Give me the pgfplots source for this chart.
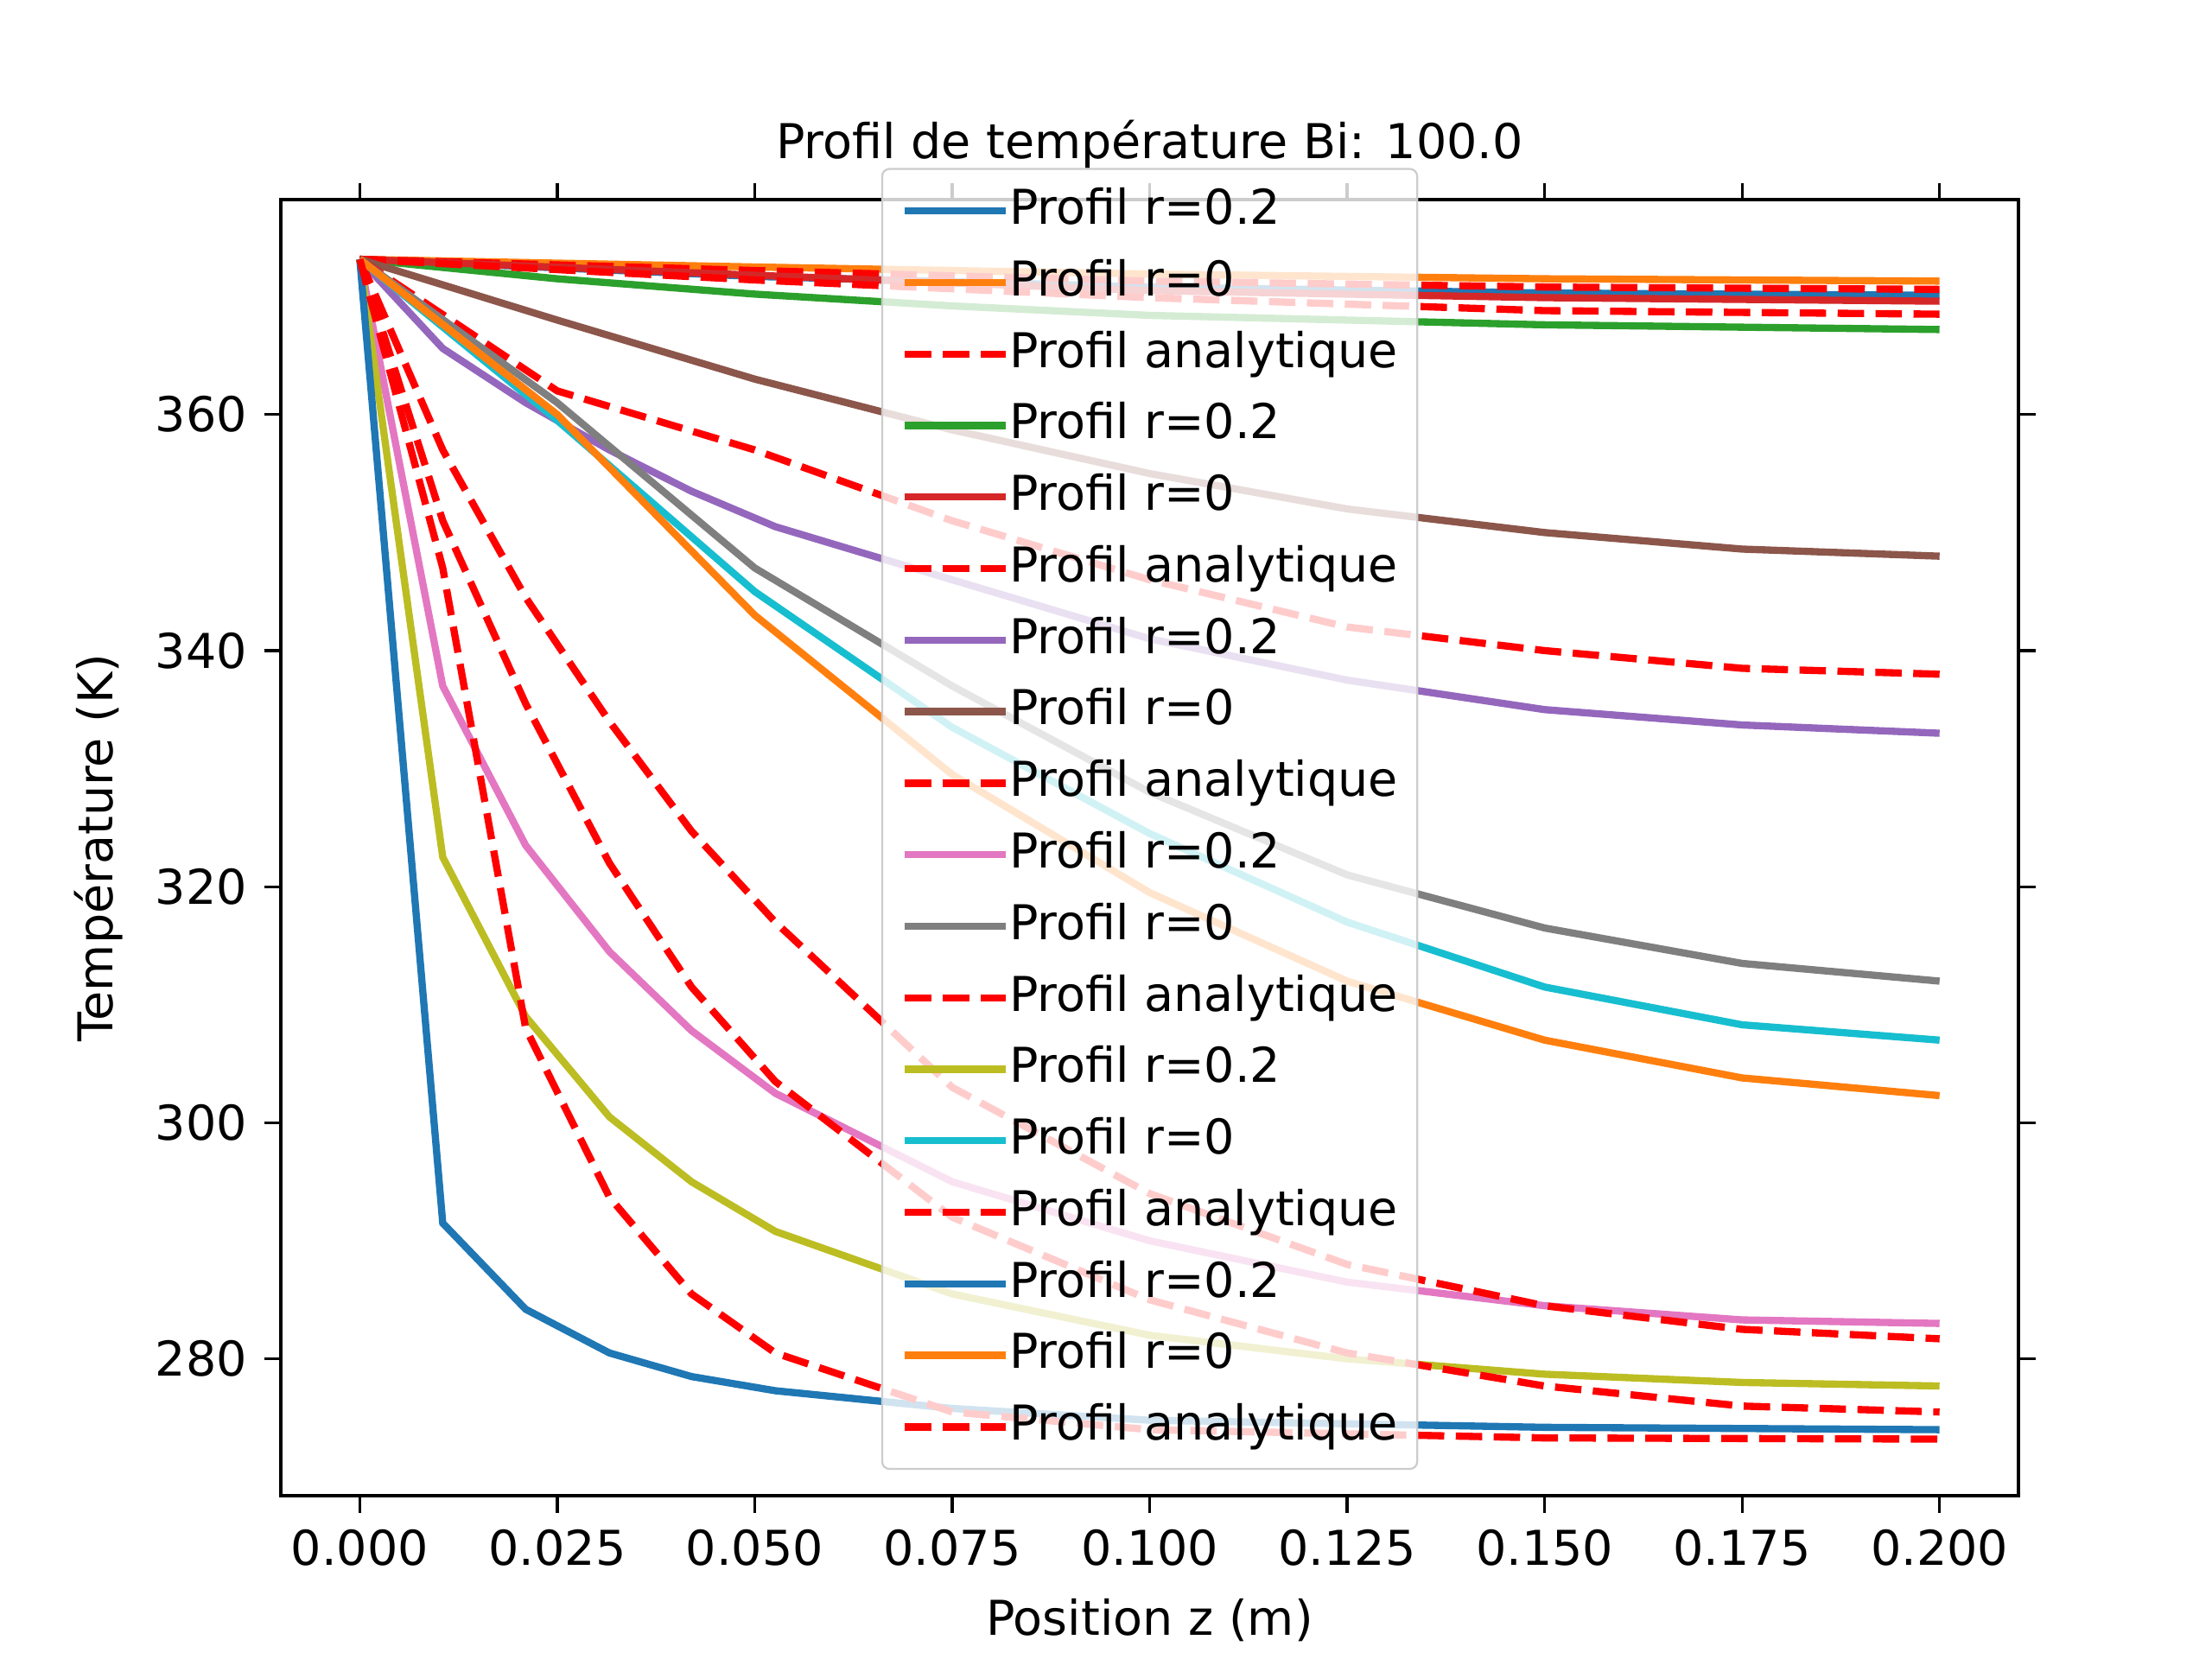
\documentclass[border=0pt]{standalone}
\usepackage{pgfplots}
\pgfplotsset{compat=1.18}
\usepackage{fontspec}
\setmainfont{DejaVu Sans}
\definecolor{c0}{HTML}{1F77B4}\definecolor{c1}{HTML}{FF7F0E}\definecolor{c2}{HTML}{2CA02C}
\definecolor{c3}{HTML}{D62728}\definecolor{c4}{HTML}{9467BD}\definecolor{c5}{HTML}{8C564B}
\definecolor{c6}{HTML}{E377C2}\definecolor{c7}{HTML}{7F7F7F}\definecolor{c8}{HTML}{BCBD22}
\definecolor{c9}{HTML}{17BECF}
\begin{document}
\begin{tikzpicture}
\path[use as bounding box] (0,0) rectangle (460.8pt,345.6pt);
\begin{axis}[at={(58.5pt,34pt)},anchor=south west,scale only axis,
width=362pt,height=270pt,xmin=-0.01,xmax=0.21,ymin=268.4,ymax=378.2,
font=\fontsize{10}{12}\selectfont,
/pgf/number format/assume math mode=true,
xtick={0,0.025,...,0.2},ytick={280,300,...,360},
xticklabel style={/pgf/number format/.cd,fixed,fixed zerofill,precision=3},
tick align=outside,major tick length=3.5pt,tick style={black,line width=0.6pt},
axis line style={line width=0.6pt},
title={Profil de température Bi: 100.0},title style={yshift=-3pt},
xlabel={Position z (m)},ylabel={Température (K)},
legend style={at={(0.5,1)},anchor=north,yshift=6.6pt,fill=white,fill opacity=0.8,text opacity=1,draw=black!20,rounded corners=1.5pt,
 nodes={inner sep=0pt,text height=7.5pt,text depth=2pt},row sep=5.4pt,inner xsep=4pt,inner ysep=4pt,
 cells={anchor=west}},
legend image code/.code={\draw[#1] (0pt,0pt) -- (21pt,0pt);},
every axis plot/.append style={line width=1.5pt,no markers},
]
\pgfplotsset{dsh/.style={red,dash pattern=on 5.5pt off 2.4pt}}
\addplot[c0] coordinates {(0,373.15)(0.05,371.7)(0.1,370.8)(0.15,370.3)(0.2,370.1)};
\addplot[c1] coordinates {(0,373.15)(0.05,372.5)(0.1,371.9)(0.15,371.5)(0.2,371.3)};
\addplot[dsh] coordinates {(0,373.15)(0.05,372.2)(0.1,371.3)(0.15,370.8)(0.2,370.6)};
\addplot[c2] coordinates {(0,373.15)(0.025,371.5)(0.05,370.2)(0.075,369.2)(0.1,368.4)(0.15,367.6)(0.2,367.2)};
\addplot[c3] coordinates {(0,373.15)(0.05,371.8)(0.1,370.5)(0.15,369.9)(0.2,369.6)};
\addplot[dsh] coordinates {(0,373.15)(0.05,371.4)(0.1,369.9)(0.15,368.8)(0.2,368.5)};
\addplot[c4] coordinates {(0,373.15)(0.0105,365.6)(0.021,361)(0.0316,357)(0.042,353.5)(0.0526,350.5)(0.075,346)(0.1,341)(0.125,337.5)(0.15,335)(0.175,333.7)(0.2,333)};
\addplot[c5] coordinates {(0,373.15)(0.025,368)(0.05,363)(0.075,358.7)(0.1,355)(0.125,352)(0.15,350)(0.175,348.6)(0.2,348)};
\addplot[dsh] coordinates {(0,373.15)(0.025,362)(0.05,357)(0.075,351)(0.1,346)(0.125,342)(0.15,340)(0.175,338.5)(0.2,338)};
\addplot[c6] coordinates {(0,373.15)(0.0105,337)(0.021,323.5)(0.0316,314.5)(0.042,307.8)(0.0526,302.5)(0.075,295)(0.1,290)(0.125,286.5)(0.15,284.5)(0.175,283.3)(0.2,283)};
\addplot[c7] coordinates {(0,373.15)(0.025,361)(0.05,347)(0.075,337)(0.1,328)(0.125,321)(0.15,316.5)(0.175,313.5)(0.2,312)};
\addplot[dsh] coordinates {(0,373.15)(0.0105,357)(0.021,344.5)(0.0316,334)(0.042,324.7)(0.0526,317)(0.075,303)(0.1,294)(0.125,288)(0.15,284.5)(0.175,282.5)(0.2,281.7)};
\addplot[c8] coordinates {(0,373.15)(0.0105,322.5)(0.021,309)(0.0316,300.5)(0.042,295)(0.0526,290.8)(0.075,285.5)(0.1,282)(0.125,280)(0.15,278.7)(0.175,278)(0.2,277.7)};
\addplot[c9] coordinates {(0,373.15)(0.025,359.5)(0.05,345)(0.075,333.5)(0.1,324.5)(0.125,317)(0.15,311.5)(0.175,308.3)(0.2,307)};
\addplot[dsh] coordinates {(0,373.15)(0.0105,351)(0.021,335.5)(0.0316,322)(0.042,311.5)(0.0526,303.5)(0.075,292)(0.1,285)(0.125,280.5)(0.15,277.7)(0.175,276)(0.2,275.5)};
\addplot[c0] coordinates {(0,373.15)(0.0105,291.5)(0.021,284.2)(0.0316,280.5)(0.042,278.5)(0.0526,277.3)(0.075,275.8)(0.1,274.8)(0.15,274.2)(0.2,274)};
\addplot[c1] coordinates {(0,373.15)(0.025,360)(0.05,343)(0.075,329.5)(0.1,319.5)(0.125,312)(0.15,307)(0.175,303.8)(0.2,302.3)};
\addplot[dsh] coordinates {(0,373.15)(0.0105,347)(0.021,308)(0.0316,293.7)(0.042,285.5)(0.0526,280.5)(0.075,275.5)(0.1,274)(0.15,273.3)(0.2,273.2)};
\legend{Profil r=0.2,Profil r=0,Profil analytique,Profil r=0.2,Profil r=0,Profil analytique,Profil r=0.2,Profil r=0,Profil analytique,Profil r=0.2,Profil r=0,Profil analytique,Profil r=0.2,Profil r=0,Profil analytique,Profil r=0.2,Profil r=0,Profil analytique}
\end{axis}
\end{tikzpicture}
\end{document}
